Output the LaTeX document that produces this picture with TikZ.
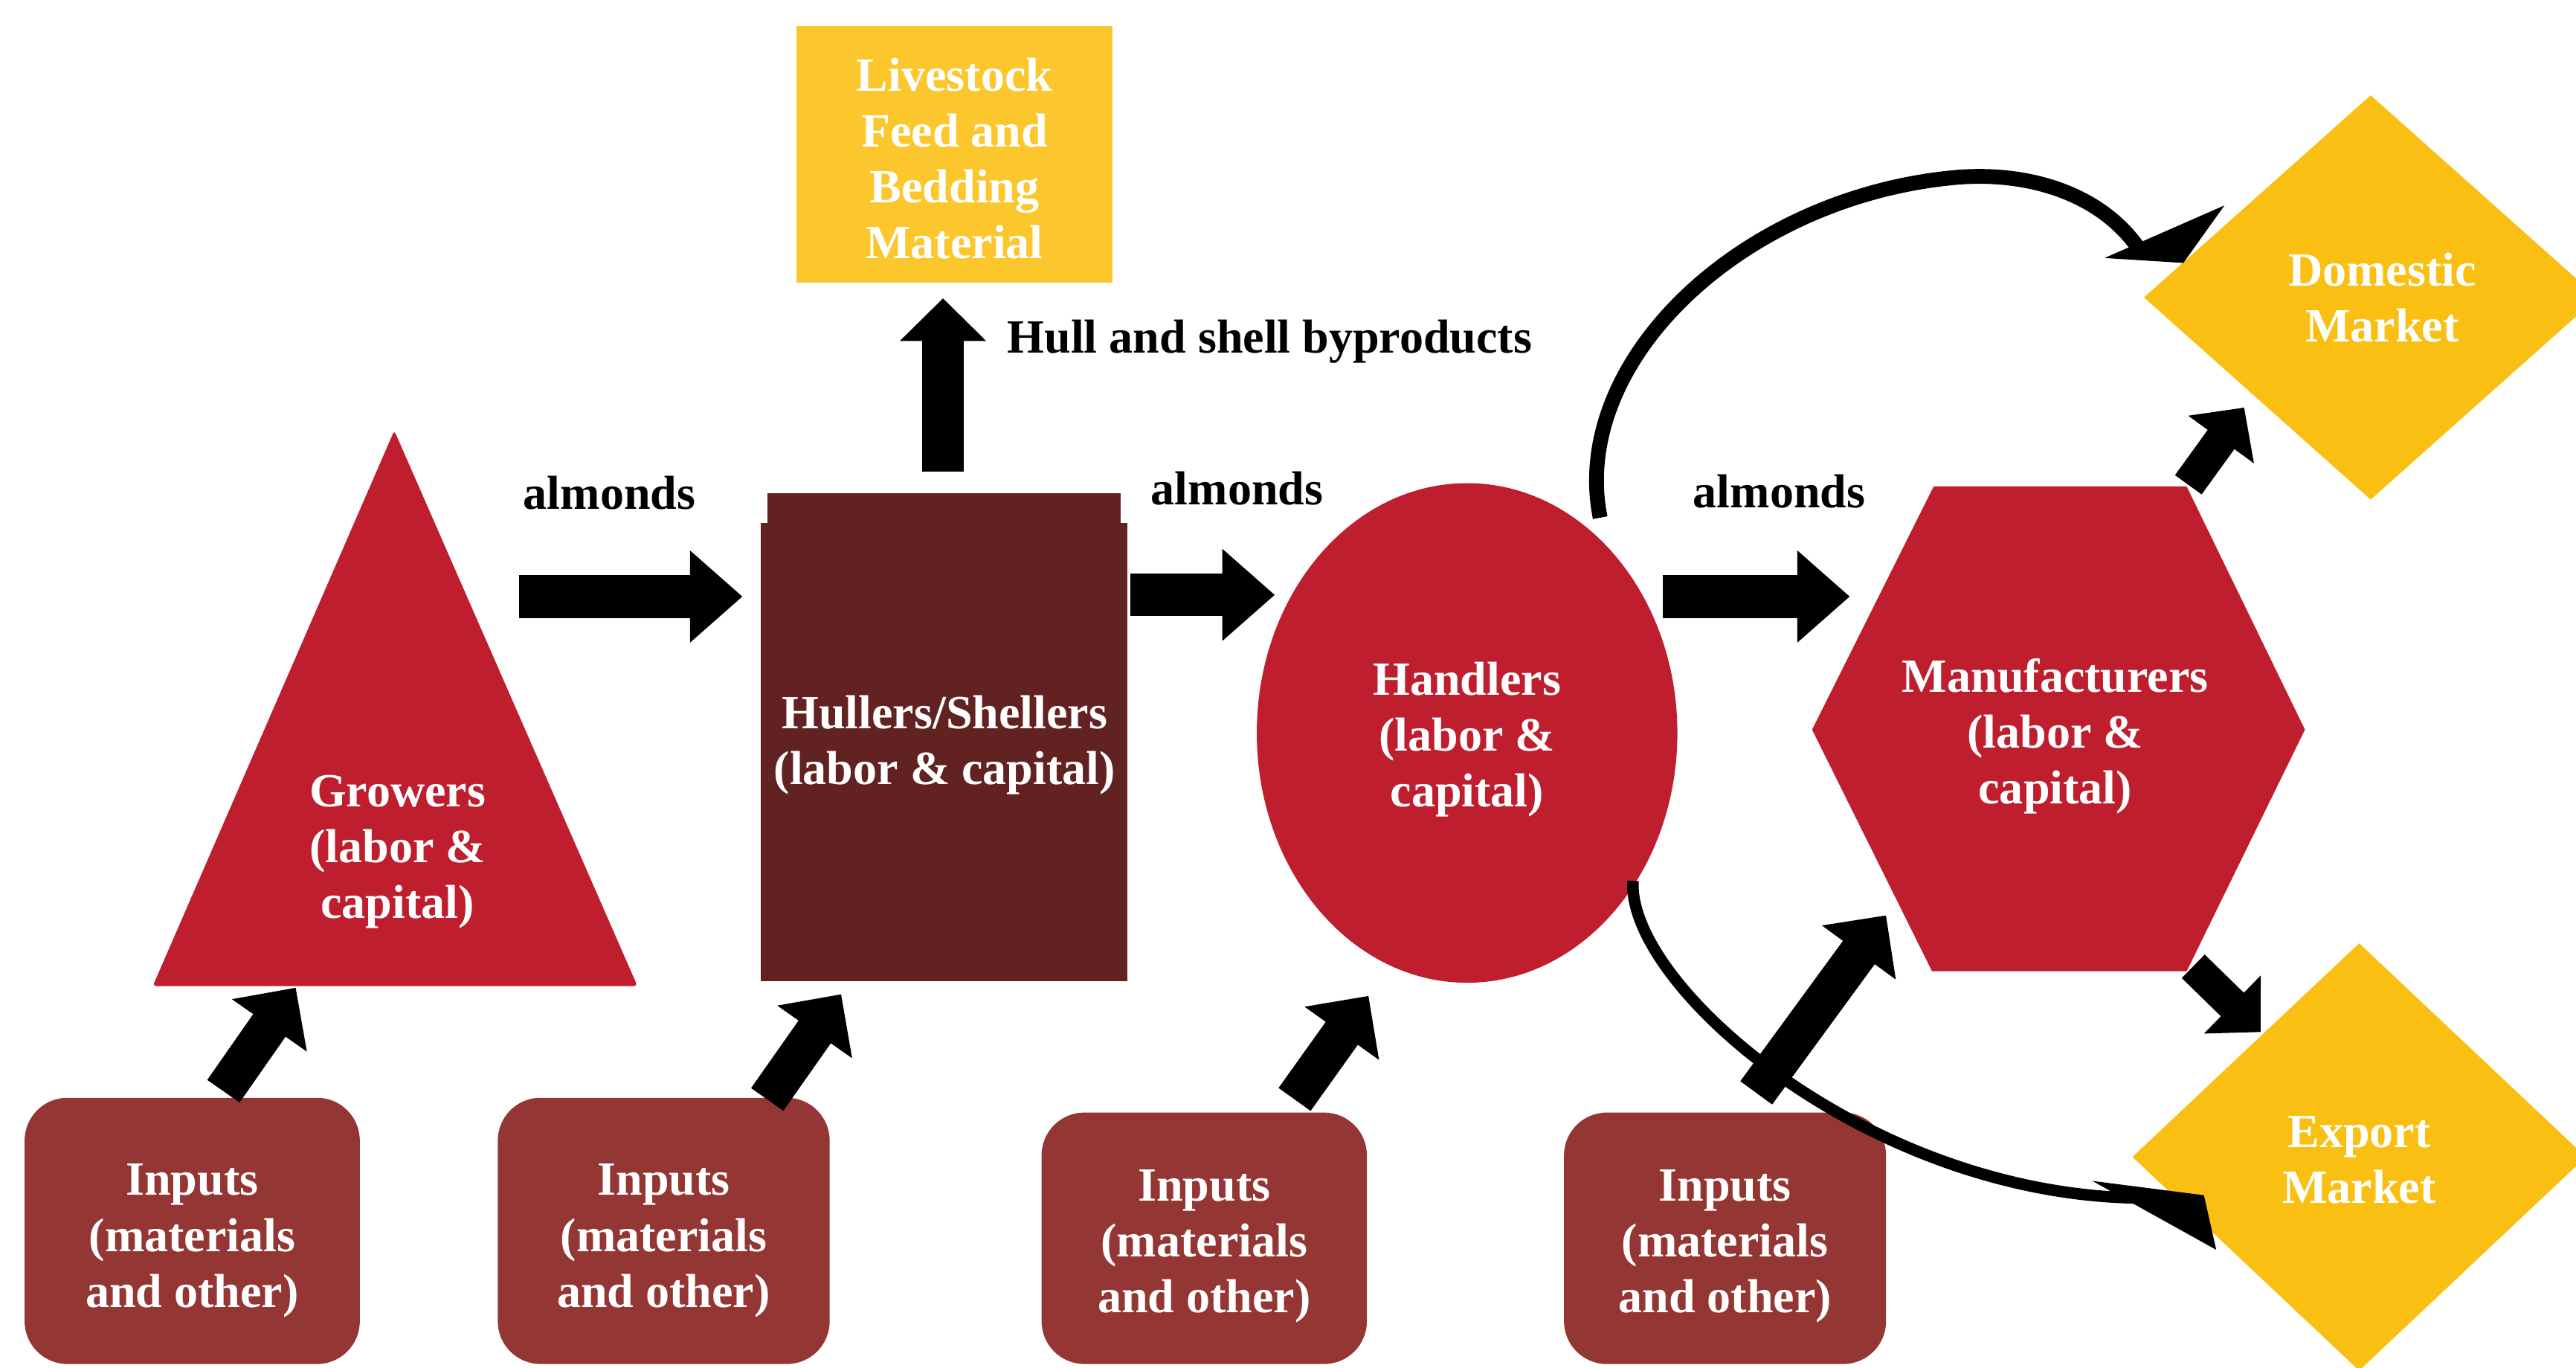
\documentclass[tikz,border=0pt]{standalone}
\usepackage{fontspec}
\setmainfont{Liberation Serif}
\usetikzlibrary{arrows.meta,shapes.geometric}
\definecolor{cred}{HTML}{BE1E2D}
\definecolor{hbrown}{HTML}{622222}
\definecolor{inbrown}{HTML}{943634}
\definecolor{lyellow}{HTML}{FCC62D}
\definecolor{dyellow}{HTML}{F9C013}
\begin{document}
\begin{tikzpicture}[x=1pt,y=-1pt,
  every node/.style={font=\fontsize{29}{34}\selectfont\bfseries, inner sep=0pt, align=center},
  wtext/.style={text=white},
  inbox/.style={fill=inbrown, rounded corners=26pt},
  fatarrow/.style={line width=26pt, -{Triangle[length=32pt,width=54pt]}},
  uparrow/.style={line width=25pt, -{Triangle[length=26pt,width=51pt]}},
  diagarrow/.style={line width=24pt, -{Triangle[length=28pt,width=54pt]}},
  shortarrow/.style={line width=20pt, -{Triangle[length=24pt,width=48pt]}},
  curveline/.style={line width=#1, line join=round},
  curvehead/.style={fill=black},
]
\useasboundingbox (0,0) rectangle (1568,832);
\clip (0,0) rectangle (1568,832);

% Livestock box
\node[fill=lyellow, minimum width=192pt, minimum height=156pt] (live) at (581,94) {};
\node[wtext] (livet) at (581,96.5) {Livestock\\Feed and\\Bedding\\Material};

% Growers triangle
\fill[cred, rounded corners=2pt] (240,262) -- (388,600) -- (93,600) -- cycle;
\node[wtext] (growers) at (242,518.5) {Growers\\(labor \&\\capital)};

% Hullers box
\fill[hbrown] (467,300) rectangle (682,318);
\node[fill=hbrown, minimum width=223pt, minimum height=279pt] (hull) at (574.5,457.5) {};
\node[wtext] (hulltext) at (575,453.5) {Hullers/Shellers\\(labor \& capital)};

% Handlers ellipse
\node[ellipse, fill=cred, minimum width=256pt, minimum height=304pt] (hand) at (893,446) {};
\node[wtext] (handt) at (893,450) {Handlers\\(labor \&\\capital)};

% Manufacturers hexagon
\fill[cred] (1177,296) -- (1331,296) -- (1403,444) -- (1331,591) -- (1176,591) -- (1103,444) -- cycle;
\node[wtext] (manuf) at (1251,448) {Manufacturers\\(labor \&\\capital)};

% Market diamonds
\fill[dyellow] (1443,58) -- (1581,181) -- (1443,304) -- (1305,181) -- cycle;
\node[wtext] (dom) at (1450,181) {Domestic\\Market};
\fill[dyellow] (1436,574) -- (1574,704) -- (1436,834) -- (1298,704) -- cycle;
\node[wtext] (exp) at (1436,706) {Export\\Market};

% Input boxes
\node[inbox, minimum width=204pt, minimum height=162pt] (in1) at (117,749) {};
\node[inbox, minimum width=202pt, minimum height=162pt] (in2) at (404,749) {};
\node[inbox, minimum width=198pt, minimum height=153pt] (in3) at (733,753.5) {};
\node[inbox, minimum width=196pt, minimum height=153pt] (in4) at (1050,753.5) {};
\node[wtext] (in1t) at (117,755) {Inputs\\(materials\\and other)};
\node[wtext] (in2t) at (404,755) {Inputs\\(materials\\and other)};
\node[wtext] (in3t) at (733,758.5) {Inputs\\(materials\\and other)};
\node[wtext] (in4t) at (1050,758.5) {Inputs\\(materials\\and other)};

% Labels
\node (al1) at (371,300) {almonds};
\node (al2) at (753,297) {almonds};
\node (al3) at (1083,299) {almonds};
\node[anchor=west] (hsb) at (613,208) {Hull and shell byproducts};

% Connector end points
\coordinate (g2hA) at (316,363);   \coordinate (g2hB) at (452,363);
\coordinate (h2hA) at (688,362);   \coordinate (h2hB) at (776,362);
\coordinate (h2mA) at (1012,363);  \coordinate (h2mB) at (1126,363);
\coordinate (h2lA) at (574,287);   \coordinate (h2lB) at (574,181.5);
\coordinate (i1A) at (136,664);    \coordinate (i1B) at (180,601);
\coordinate (i2A) at (467,669);    \coordinate (i2B) at (512,605);
\coordinate (i3A) at (788,669);    \coordinate (i3B) at (833,606);
\coordinate (i4A) at (1069,665);   \coordinate (i4B) at (1148,557);
\coordinate (m2dA) at (1332,295);  \coordinate (m2dB) at (1366,248);
\coordinate (m2eA) at (1335,588);  \coordinate (m2eB) at (1376,628);
% curved connector to domestic market
\coordinate (cdA) at (974,315);    \coordinate (cdP) at (1190,108);
\coordinate (cdK) at (1303,153);
\coordinate (cdT) at (1354,125);   \coordinate (cdL) at (1281,157); \coordinate (cdR) at (1329,160);
% curved connector to export market
\coordinate (ceA) at (994,536);    \coordinate (ceK) at (1308,729);
\coordinate (ceT) at (1349,760.5); \coordinate (ceL) at (1273.6,718.6); \coordinate (ceR) at (1341.5,727.3);

% Connectors
\draw[fatarrow] (g2hA) -- (g2hB);
\draw[fatarrow] (h2hA) -- (h2hB);
\draw[fatarrow] (h2mA) -- (h2mB);
\draw[uparrow] (h2lA) -- (h2lB);
\draw[diagarrow] (i1A) -- (i1B);
\draw[diagarrow] (i2A) -- (i2B);
\draw[diagarrow] (i3A) -- (i3B);
\draw[diagarrow] (i4A) -- (i4B);
\draw[shortarrow] (m2dA) -- (m2dB);
\draw[shortarrow] (m2eA) -- (m2eB);
\draw[curveline=9pt] (cdA) .. controls (955,220) and (1060,120) .. (cdP)
   .. controls (1235,104) and (1280,118) .. (cdK);
\fill[curvehead] (cdT) -- (cdL) -- (cdR) -- cycle;
\draw[curveline=7pt] (ceA) .. controls (990,600) and (1140,730) .. (ceK);
\fill[curvehead] (ceT) -- (ceL) -- (ceR) -- cycle;
\end{tikzpicture}
\end{document}
